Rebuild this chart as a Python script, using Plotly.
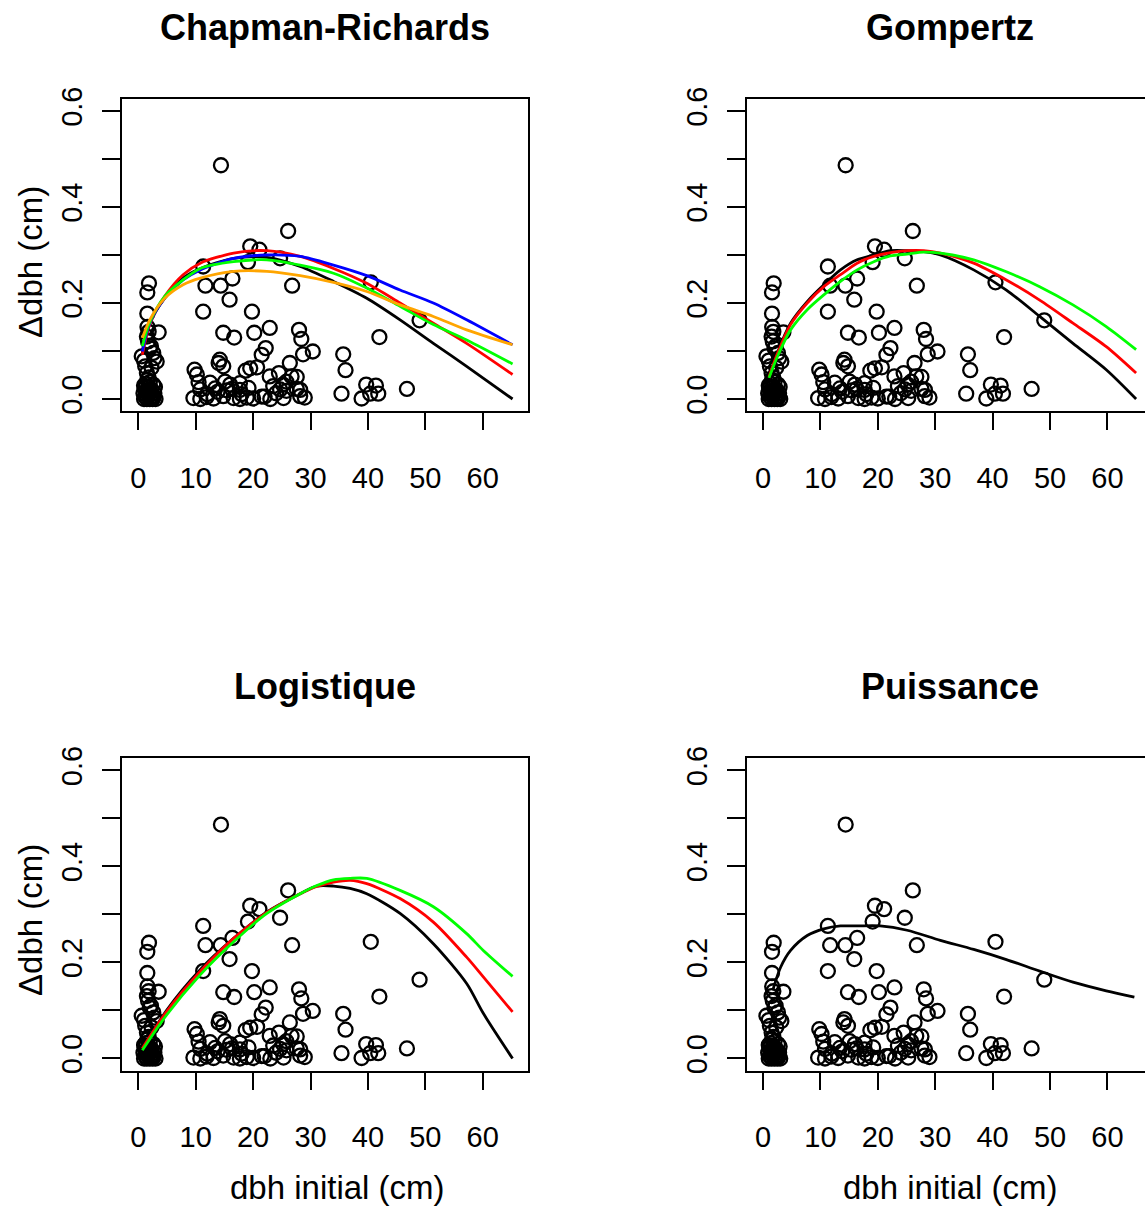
import plotly.graph_objects as go
from plotly.subplots import make_subplots

# ---------------- observed data (same in all panels) ----------------
obs_x = [14.4, 26.1, 19.5, 21.1, 19.1, 24.7, 11.3, 1.86, 1.57, 11.7, 14.35, 16.4, 26.8, 40.5,
         15.9, 1.57, 11.3, 19.8, 49.0, 3.55, 14.8, 16.7, 20.2, 22.9, 28.0, 28.4, 42.0, 22.2,
         21.5, 28.7, 30.4, 35.7, 36.1, 26.4, 14.2, 14.0, 14.8, 9.8, 10.2, 18.7, 19.5, 20.7,
         22.9, 24.5, 26.7, 27.6, 25.2, 23.5, 39.7, 41.4, 46.8, 35.4, 38.9, 40.4, 41.8,
         9.6, 10.8, 11.9, 13.1, 14.8, 16.6, 17.7, 18.9, 20.0, 21.5, 23.0, 25.3, 28.2, 29.0,
         10.8, 13.4, 15.4, 16.3, 17.7, 19.2, 24.7, 25.8, 27.6, 28.2,
         10.5, 12.5, 15.1, 17.7, 25.8, 12.0, 13.8, 16.0, 18.0, 22.0, 24.0,
         1.6, 1.8, 1.5, 1.7, 2.2, 2.6, 3.2, 0.6, 1.2, 2.0, 1.5, 2.8, 1.0, 2.3, 1.8,
         1.0, 1.5, 2.0, 2.5, 3.0, 1.2, 1.8, 2.4, 0.9, 1.4, 2.1, 2.8, 1.1, 1.7, 2.3,
         2.9, 1.3, 2.0, 2.6, 1.6, 1.0, 2.2, 1.9, 2.7, 1.3]
obs_y = [0.487, 0.350, 0.318, 0.311, 0.285, 0.293, 0.276, 0.241, 0.222, 0.236, 0.236, 0.251, 0.236, 0.243,
         0.207, 0.178, 0.182, 0.182, 0.164, 0.139, 0.138, 0.128, 0.138, 0.148, 0.144, 0.125, 0.129, 0.106,
         0.092, 0.093, 0.099, 0.093, 0.060, 0.075, 0.082, 0.075, 0.068, 0.061, 0.051, 0.059, 0.064, 0.066,
         0.047, 0.054, 0.047, 0.046, 0.030, 0.027, 0.030, 0.028, 0.021, 0.011, 0.001, 0.011, 0.011,
         0.002, 0.000, 0.004, 0.001, 0.006, 0.002, 0.000, 0.003, 0.001, 0.005, 0.000, 0.002, 0.006, 0.003,
         0.020, 0.022, 0.018, 0.021, 0.019, 0.023, 0.020, 0.017, 0.021, 0.019,
         0.035, 0.034, 0.036, 0.033, 0.036, 0.010, 0.015, 0.030, 0.010, 0.005, 0.012,
         0.150, 0.140, 0.130, 0.120, 0.110, 0.096, 0.078, 0.089, 0.068, 0.106, 0.054, 0.085, 0.080, 0.065, 0.045,
         0.000, 0.000, 0.000, 0.000, 0.000, 0.005, 0.008, 0.006, 0.012, 0.015, 0.014, 0.012, 0.022, 0.025, 0.020,
         0.025, 0.032, 0.035, 0.030, 0.040, 0.028, 0.002, 0.018, 0.004, 0.010]

# ---------------- fitted curves ----------------
cr_x = [0.7, 2.0, 4.6, 7.8, 10.8, 16.6, 22.4, 28.2, 34.0, 39.8, 45.6, 51.4, 57.2, 65.2]
cr_black = [0.096, 0.158, 0.210, 0.252, 0.272, 0.293, 0.295, 0.276, 0.245, 0.210, 0.165, 0.116, 0.068, 0.000]
cr_red = [0.092, 0.155, 0.214, 0.259, 0.283, 0.304, 0.309, 0.297, 0.272, 0.241, 0.200, 0.158, 0.116, 0.051]
cr_blue = [0.099, 0.158, 0.210, 0.248, 0.269, 0.293, 0.300, 0.297, 0.279, 0.257, 0.227, 0.200, 0.165, 0.113]
cr_green = [0.110, 0.160, 0.214, 0.248, 0.272, 0.286, 0.290, 0.279, 0.262, 0.231, 0.193, 0.155, 0.123, 0.073]
cr_orange = [0.127, 0.165, 0.210, 0.238, 0.252, 0.266, 0.266, 0.257, 0.243, 0.224, 0.196, 0.172, 0.144, 0.113]

gz_x = [1.05, 2.5, 4.8, 7.7, 10.6, 13.5, 16.4, 19.3, 22.2, 25.1, 28.0, 30.9, 36.7, 42.4, 48.2, 54.0, 59.8, 65.0]
gz_black = [0.044, 0.096, 0.158, 0.203, 0.238, 0.269, 0.290, 0.300, 0.309, 0.309, 0.307, 0.300, 0.269, 0.227, 0.172, 0.116, 0.061, 0.000]
gz_red = [0.046, 0.094, 0.155, 0.200, 0.234, 0.259, 0.283, 0.297, 0.305, 0.309, 0.309, 0.304, 0.283, 0.248, 0.206, 0.158, 0.109, 0.054]
gz_green = [0.044, 0.088, 0.144, 0.186, 0.217, 0.245, 0.269, 0.286, 0.298, 0.302, 0.306, 0.304, 0.290, 0.265, 0.234, 0.196, 0.151, 0.103]

lg_x = [0.7, 4.9, 10.7, 16.6, 22.4, 28.2, 31.1, 34.0, 36.9, 39.8, 45.6, 51.4, 57.2, 60.1, 65.2]
lg_black = [0.019, 0.100, 0.184, 0.250, 0.305, 0.343, 0.359, 0.359, 0.354, 0.343, 0.302, 0.239, 0.156, 0.094, 0.000]
lg_red = [0.021, 0.097, 0.180, 0.250, 0.304, 0.343, 0.358, 0.367, 0.371, 0.364, 0.333, 0.284, 0.211, 0.170, 0.097]
lg_green = [0.017, 0.090, 0.173, 0.243, 0.302, 0.343, 0.360, 0.372, 0.375, 0.375, 0.350, 0.316, 0.260, 0.225, 0.171]

pw_x = [1.7, 3.07, 4.81, 7.71, 10.6, 13.5, 16.4, 20.4, 25.1, 30.9, 36.7, 42.4, 48.2, 54.0, 59.8, 64.7]
pw_black = [0.142, 0.190, 0.225, 0.256, 0.270, 0.276, 0.276, 0.276, 0.267, 0.246, 0.227, 0.206, 0.182, 0.159, 0.141, 0.128]

titles = ["Chapman-Richards", "Gompertz", "Logistique", "Puissance"]
x_ticks = [0, 10, 20, 30, 40, 50, 60]
y_ticks = [0.0, 0.1, 0.2, 0.3, 0.4, 0.5, 0.6]
y_ticktext = ["0.0", "", "0.2", "", "0.4", "", "0.6"]
xlab = "dbh initial (cm)"
ylab = "Δdbh (cm)"

FONT = "Liberation Sans, Arial, Helvetica, sans-serif"
W, H = 1145, 1207

fig = make_subplots(rows=2, cols=2)

GREEN = "#00ff00"
panels = [
    (1, 1, cr_x, [(cr_black, "black"), (cr_red, "#ff0000"), (cr_blue, "#0000ff"), (cr_green, GREEN), (cr_orange, "#ffa500")]),
    (1, 2, gz_x, [(gz_black, "black"), (gz_red, "#ff0000"), (gz_green, GREEN)]),
    (2, 1, lg_x, [(lg_black, "black"), (lg_red, "#ff0000"), (lg_green, GREEN)]),
    (2, 2, pw_x, [(pw_black, "black")]),
]

for r, c, cx, curves in panels:
    fig.add_trace(go.Scatter(x=obs_x, y=obs_y, mode="markers",
                             marker=dict(symbol="circle-open", size=14, color="black",
                                         line=dict(width=2.3, color="black")),
                             showlegend=False, hoverinfo="skip"), row=r, col=c)
    for cy, col in curves:
        fig.add_trace(go.Scatter(x=cx, y=cy, mode="lines",
                                 line=dict(color=col, width=2.8, shape="spline", smoothing=0.8),
                                 showlegend=False), row=r, col=c)

# domains (pixel-based)
left_dom = [122 / W, 528 / W]
right_dom = [746.7 / W, 1.0]
top_dom = [1 - 411 / H, 1 - 99 / H]
bot_dom = [1 - 1070.5 / H, 1 - 758.3 / H]

axis_font = dict(family=FONT, size=29, color="black")
for r in (1, 2):
    for c in (1, 2):
        xd = left_dom if c == 1 else right_dom
        yd = top_dom if r == 1 else bot_dom
        xr = [-2.84, 67.89] if c == 1 else [-2.84, 66.55]
        fig.update_xaxes(domain=xd, range=xr, tickvals=x_ticks, ticktext=[str(v) for v in x_ticks],
                         showgrid=False, zeroline=False, showline=True, linecolor="black", linewidth=2,
                         mirror=True, ticks="outside", ticklen=17, tickwidth=2, tickcolor="black",
                         tickfont=axis_font, ticklabelstandoff=23, automargin=False, row=r, col=c)
        fig.update_yaxes(domain=yd, range=[-0.025, 0.625], tickvals=y_ticks, ticktext=y_ticktext,
                         showgrid=False, zeroline=False, showline=True, linecolor="black", linewidth=2,
                         mirror=(c == 1), ticks="outside", ticklen=18, tickwidth=2, tickcolor="black",
                         tickangle=-90, tickfont=axis_font, ticklabelstandoff=8, automargin=False,
                         row=r, col=c)

ann = []
title_pos = [(325, 27), (950, 27), (325, 686), (950, 686)]
for t, (px, py) in zip(titles, title_pos):
    ann.append(dict(text="<b>%s</b>" % t, x=px / W, y=1 - py / H, xref="paper", yref="paper",
                    xanchor="center", yanchor="middle", showarrow=False,
                    font=dict(family=FONT, size=36, color="black")))
for px, py in [(337, 1187), (950, 1187)]:
    ann.append(dict(text=xlab, x=px / W, y=1 - py / H, xref="paper", yref="paper",
                    xanchor="center", yanchor="middle", showarrow=False,
                    font=dict(family=FONT, size=33, color="black")))
for px, py in [(30, 262), (30, 920)]:
    ann.append(dict(text=ylab, x=px / W, y=1 - py / H, xref="paper", yref="paper",
                    xanchor="center", yanchor="middle", showarrow=False, textangle=-90,
                    font=dict(family=FONT, size=33, color="black")))

fig.update_layout(width=W, height=H, margin=dict(l=0, r=0, t=0, b=0, pad=0, autoexpand=False),
                  paper_bgcolor="white", plot_bgcolor="white", annotations=ann,
                  font=dict(family=FONT, color="black"))

fig.write_html("out.html", config={"displayModeBar": False},
               post_script="document.body.style.margin='0';document.body.style.padding='0';"
                           "document.documentElement.style.overflow='hidden';")
